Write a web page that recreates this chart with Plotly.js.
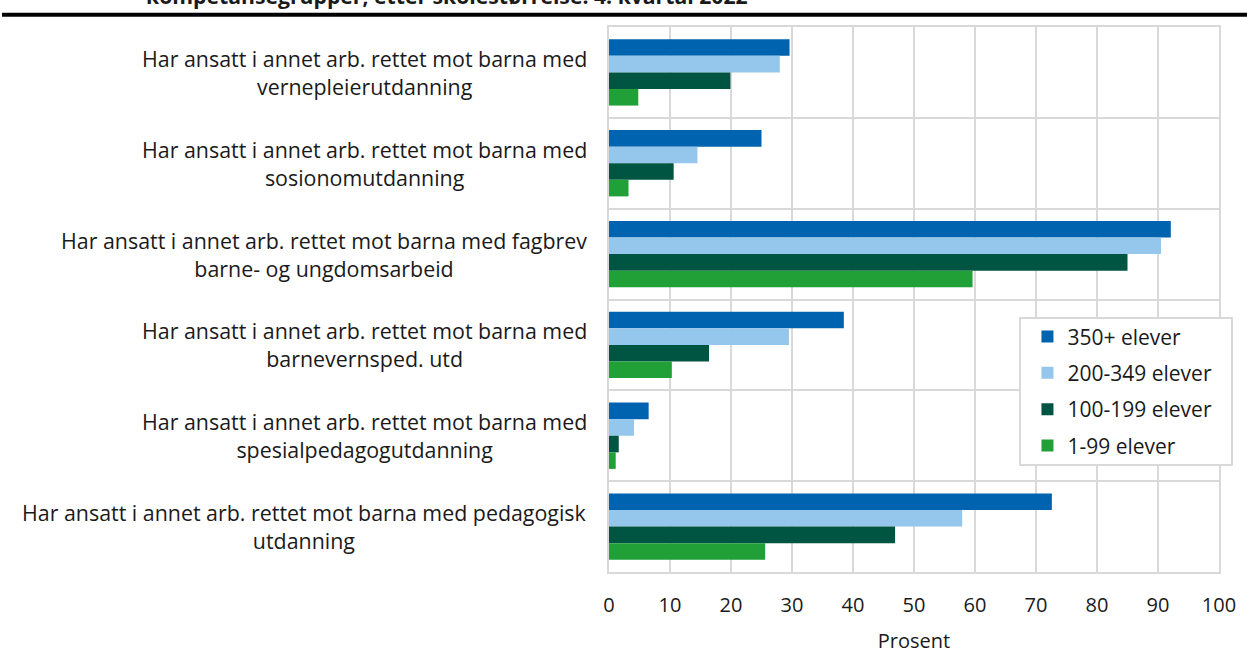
<!DOCTYPE html>
<html>
<head>
<meta charset="utf-8">
<script src="https://cdn.plot.ly/plotly-3.0.1.min.js"></script>
<style>
  html, body { margin: 0; padding: 0; background: #ffffff; }
  #chart { width: 1247px; height: 654px; }
</style>
</head>
<body>
<div id="chart"></div>
<script>
// ---- Data ----
const categories = [
  "Har ansatt i annet arb. rettet mot barna med<br>vernepleierutdanning",
  "Har ansatt i annet arb. rettet mot barna med<br>sosionomutdanning",
  "Har ansatt i annet arb. rettet mot barna med fagbrev<br>barne- og ungdomsarbeid",
  "Har ansatt i annet arb. rettet mot barna med<br>barnevernsped. utd",
  "Har ansatt i annet arb. rettet mot barna med<br>spesialpedagogutdanning",
  "Har ansatt i annet arb. rettet mot barna med pedagogisk<br>utdanning"
];
const seriesNames = ["350+ elever", "200-349 elever", "100-199 elever", "1-99 elever"];
const values350 = [29.6, 25.0, 92.1, 38.5, 6.5, 72.6];
const values200 = [28.0, 14.5, 90.5, 29.5, 4.1, 57.9];
const values100 = [19.9, 10.6, 85.0, 16.4, 1.6, 46.9];
const values1   = [4.8, 3.2, 59.6, 10.3, 1.1, 25.6];
const xTickValues = [0, 10, 20, 30, 40, 50, 60, 70, 80, 90, 100];
const xAxisTitle = "Prosent";
const chartTitleVisible = "kompetansegrupper, etter skolestørrelse. 4. kvartal 2022";

// ---- Styles ----
const colors = ["#0063AF", "#95C6EC", "#005442", "#21A038"];
const FONT = "'Open Sans', 'Noto Sans', sans-serif";
const TEXT = "#1a1a1a";
const GRID = "#d9d9d9";

const seriesValues = [values350, values200, values100, values1];
const traces = seriesValues.map((vals, i) => ({
  type: "bar",
  orientation: "h",
  name: seriesNames[i],
  legendgroup: "g" + i,
  x: vals,
  y: categories,
  marker: { color: colors[i], line: { width: 0 } },
  hoverinfo: "skip"
}));

// Category labels drawn as centred, right-anchored annotations
const annotations = categories.map((label) => ({
  xref: "paper", yref: "y",
  x: -0.0328, y: label,
  xanchor: "right", yanchor: "middle",
  align: "center",
  text: label, showarrow: false,
  font: { family: FONT, size: 21.4, color: TEXT }
}));
annotations.push({
  xref: "paper", yref: "paper",
  x: -0.762, y: 1.057,
  xanchor: "left", yanchor: "middle",
  text: "<b>" + chartTitleVisible + "</b>",
  showarrow: false,
  font: { family: FONT, size: 21.2, color: TEXT }
});

const layout = {
  width: 1247, height: 654,
  margin: { l: 609, r: 28, t: 27, b: 82, pad: 0 },
  paper_bgcolor: "#ffffff",
  plot_bgcolor: "#ffffff",
  font: { family: FONT, size: 20, color: TEXT },
  barmode: "group",
  bargap: 0.27,
  bargroupgap: 0,
  showlegend: true,
  legend: {
    x: 0.686, y: 0.469, xanchor: "left", yanchor: "top",
    bgcolor: "rgba(0,0,0,0)", borderwidth: 0,
    font: { family: FONT, size: 21, color: TEXT },
    traceorder: "grouped", tracegroupgap: 6,
    itemclick: false, itemdoubleclick: false
  },
  xaxis: {
    range: [0, 100],
    tickvals: xTickValues,
    showgrid: true, gridcolor: GRID, gridwidth: 2,
    zeroline: false,
    showline: true, mirror: true, linecolor: GRID, linewidth: 2,
    ticks: "", ticklabelstandoff: 14,
    tickfont: { family: FONT, size: 20, color: TEXT },
    title: { text: xAxisTitle, standoff: 17, font: { family: FONT, size: 20, color: TEXT } },
    fixedrange: true
  },
  yaxis: {
    type: "category",
    categoryorder: "array", categoryarray: categories,
    autorange: "reversed",
    tickson: "boundaries",
    showgrid: true, gridcolor: GRID, gridwidth: 2,
    showline: true, mirror: true, linecolor: GRID, linewidth: 2,
    showticklabels: false, ticks: "",
    fixedrange: true
  },
  annotations: annotations,
  shapes: [
    { // black rule under the (cropped) title
      type: "line", xref: "paper", yref: "paper",
      x0: -0.995, x1: 1.05, y0: 1.0226, y1: 1.0226,
      line: { color: "#000000", width: 4 }
    },
    { // legend frame
      type: "rect", xref: "paper", yref: "paper", layer: "above",
      x0: 0.6738, x1: 1.0213, y0: 0.1963, y1: 0.4661,
      fillcolor: "#ffffff",
      line: { color: GRID, width: 2 }
    }
  ]
};

Plotly.newPlot("chart", traces, layout, { displayModeBar: false, staticPlot: true });
</script>
</body>
</html>
